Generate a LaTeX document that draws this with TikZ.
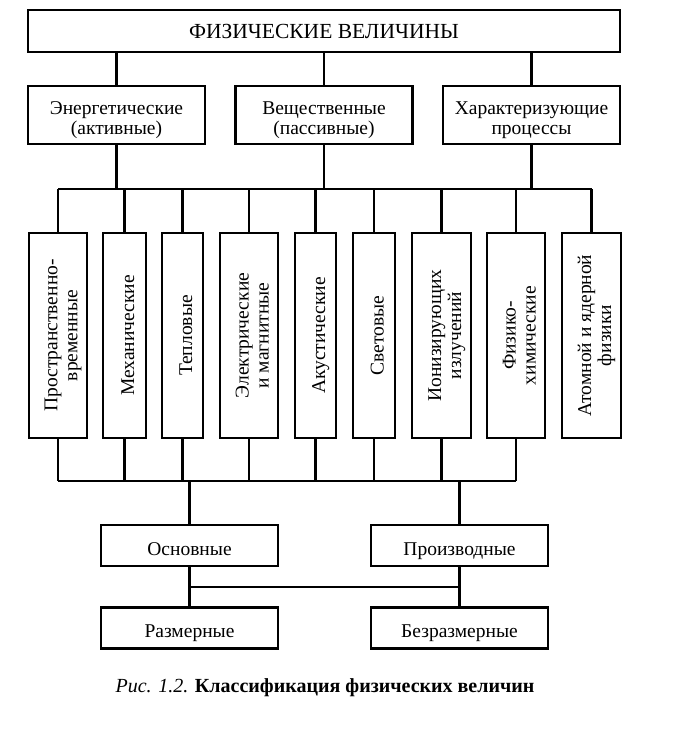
\documentclass[tikz,border=0pt]{standalone}
\usepackage{fontspec}
\usepackage{graphicx}
\setmainfont{Liberation Serif}
\tikzset{
  box/.style={draw, line width=2.7pt, align=center, inner sep=0pt,
    font=\fontsize{19.5}{20}\selectfont},
  wide/.style={box, minimum width=177pt, minimum height=58pt},
  tall/.style={box, minimum height=205pt},
  low/.style={box, minimum width=177pt, minimum height=41pt},
  link/.style={line width=2.7pt}
}
\newcommand{\mtext}[1]{\begin{tabular}{@{}c@{}}\rule{0pt}{25pt}#1\end{tabular}}
\newcommand{\vtext}[1]{\rotatebox{90}{\mtext{#1}}}
\begin{document}
\begin{tikzpicture}[x=1pt,y=-1pt]
\useasboundingbox (0,0) rectangle (672,733);
% top
\node[box, minimum width=592pt, minimum height=42pt, font=\fontsize{21.5}{22}\selectfont] (top) at (324,31) {ФИЗИЧЕСКИЕ ВЕЛИЧИНЫ};
% row 2
\node[wide] (en) at (116.5,115) {\mtext{Энергетические\\(активные)}};
\node[wide] (ve) at (324,115) {\mtext{Вещественные\\(пассивные)}};
\node[wide] (ha) at (531.5,115) {\mtext{Характеризующие\\процессы}};
% buses
\coordinate (busT) at (0,189);
\coordinate (busB) at (0,481);
% tall boxes
\node[tall, minimum width=58pt] (t1) at (58,335.5) {\vtext{Пространственно-\\временные}};
\node[tall, minimum width=43pt] (t2) at (124.5,335.5) {\vtext{Механические}};
\node[tall, minimum width=41pt] (t3) at (182.5,335.5) {\vtext{Тепловые}};
\node[tall, minimum width=58pt] (t4) at (249,335.5) {\vtext{Электрические\\и магнитные}};
\node[tall, minimum width=41pt] (t5) at (315.5,335.5) {\vtext{Акустические}};
\node[tall, minimum width=42pt] (t6) at (374,335.5) {\vtext{Световые}};
\node[tall, minimum width=59pt] (t7) at (441.5,335.5) {\vtext{Ионизирующих\\излучений}};
\node[tall, minimum width=58pt] (t8) at (516,335.5) {\vtext{Физико-\\химические}};
\node[tall, minimum width=59pt] (t9) at (591.5,335.5) {\vtext{Атомной и ядерной\\физики}};
% bottom
\node[low] (os) at (189.5,545.5) {\mtext{Основные}};
\node[low] (pr) at (459.5,545.5) {\mtext{Производные}};
\node[low] (ra) at (189.5,628) {\mtext{Размерные}};
\node[low] (bz) at (459.5,628) {\mtext{Безразмерные}};
% caption
\node[font=\fontsize{20}{20}\selectfont, inner sep=0pt] (cap) at (325,688)
  {\textit{Рис. 1.2.} \textbf{Классификация физических величин}};
% connectors top
\foreach \n in {en,ve,ha} \draw[link] (top.south -| \n) -- (\n.north);
\foreach \n in {en,ve,ha} \draw[link] (\n.south) -- (\n.south |- busT);
\draw[link] (t1.north |- busT) -- (t9.north |- busT);
\foreach \n in {t1,t2,t3,t4,t5,t6,t7,t8,t9} \draw[link] (\n.north |- busT) -- (\n.north);
% connectors bottom
\foreach \n in {t1,t2,t3,t4,t5,t6,t7,t8} \draw[link] (\n.south) -- (\n.south |- busB);
\draw[link] (t1.south |- busB) -- (t8.south |- busB);
\draw[link] (os.north |- busB) -- (os.north);
\draw[link] (pr.north |- busB) -- (pr.north);
\draw[link] (os.south) -- (ra.north);
\draw[link] (pr.south) -- (bz.north);
\coordinate (mid) at (0,587);
\draw[link] (os.south |- mid) -- (pr.south |- mid);
\end{tikzpicture}
\end{document}
